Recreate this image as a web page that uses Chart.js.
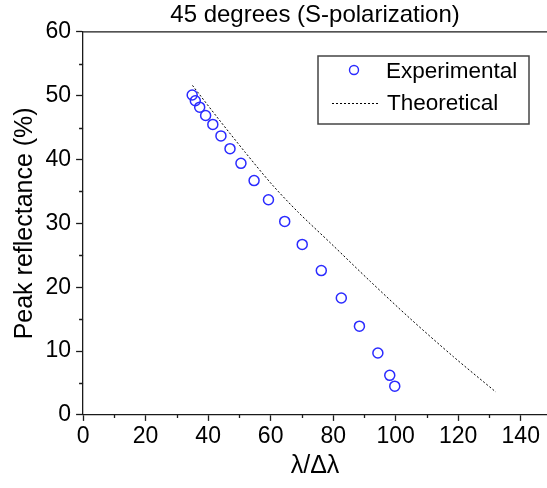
<!DOCTYPE html>
<html>
<head>
<meta charset="utf-8">
<script src="https://cdn.jsdelivr.net/npm/chart.js@4/dist/chart.umd.min.js"></script>
<style>
  html, body { margin: 0; padding: 0; background: #fff; }
  #wrap { width: 547px; height: 488px; position: relative; }
</style>
</head>
<body>
<div id="wrap"><canvas id="c" width="547" height="488"></canvas></div>
<script>
// ---- data ----
const expX = [34.9, 35.9, 37.3, 39.2, 41.5, 44.1, 47.0, 50.5, 54.7, 59.3, 64.5, 70.1, 76.2, 82.6, 88.4, 94.3, 98.1, 99.7];
const expY = [50.1, 49.2, 48.2, 46.9, 45.5, 43.7, 41.7, 39.4, 36.7, 33.7, 30.3, 26.7, 22.6, 18.3, 13.9, 9.7, 6.2, 4.5];
const theoX = [35.0, 43.4, 51.9, 60.4, 68.9, 79.4, 91.9, 104.6, 118.5, 132.0];
const theoY = [51.6, 46.3, 41.1, 36.1, 31.7, 26.8, 20.9, 15.1, 9.1, 3.6];
const xMajorTicks = [0, 20, 40, 60, 80, 100, 120, 140];
const xMinorTicks = [10, 30, 50, 70, 90, 110, 130];
const yMajorTicks = [0, 10, 20, 30, 40, 50, 60];
const yMinorTicks = [5, 15, 25, 35, 45, 55];
const titleText = '45 degrees (S-polarization)';
const xTitle = 'λ/Δλ';
const yTitle = 'Peak reflectance (%)';
const seriesNames = ['Experimental', 'Theoretical'];

const FONT = 'Arial, "Liberation Sans", sans-serif';
const AXIS = '#1a1a1a';
const BLUE = '#2b2bff';

const extras = {
  id: 'extras',
  afterDraw(chart) {
    const ctx = chart.ctx;
    const a = chart.chartArea;
    const xs = chart.scales.x, ys = chart.scales.y;
    ctx.save();
    ctx.strokeStyle = AXIS;
    ctx.lineWidth = 1.3;
    // top border
    ctx.beginPath();
    ctx.moveTo(a.left, a.top);
    ctx.lineTo(a.right, a.top);
    ctx.stroke();
    // minor ticks
    ctx.beginPath();
    xMinorTicks.forEach(v => {
      const px = Math.round(xs.getPixelForValue(v)) + 0.5;
      ctx.moveTo(px, a.bottom);
      ctx.lineTo(px, a.bottom + 3);
    });
    yMinorTicks.forEach(v => {
      const py = Math.round(ys.getPixelForValue(v)) + 0.5;
      ctx.moveTo(a.left, py);
      ctx.lineTo(a.left - 4, py);
    });
    ctx.stroke();
    // legend box
    const lx = 318, ly = 56, lw = 211, lh = 68;
    ctx.fillStyle = '#fff';
    ctx.fillRect(lx, ly, lw, lh);
    ctx.strokeStyle = '#444';
    ctx.lineWidth = 1.5;
    ctx.strokeRect(lx, ly, lw, lh);
    // experimental marker
    ctx.strokeStyle = BLUE;
    ctx.lineWidth = 1.4;
    ctx.beginPath();
    ctx.arc(354, 70, 4.5, 0, Math.PI * 2);
    ctx.stroke();
    // theoretical line
    ctx.strokeStyle = '#000';
    ctx.lineWidth = 1;
    ctx.setLineDash([2, 2]);
    ctx.beginPath();
    ctx.moveTo(332, 103.5);
    ctx.lineTo(378, 103.5);
    ctx.stroke();
    ctx.setLineDash([]);
    ctx.fillStyle = '#000';
    ctx.font = '22.5px ' + FONT;
    ctx.textBaseline = 'middle';
    ctx.textAlign = 'left';
    ctx.fillText(seriesNames[0], 386, 72);
    ctx.fillText(seriesNames[1], 387, 104);
    ctx.restore();
  }
};

new Chart(document.getElementById('c'), {
  type: 'scatter',
  data: {
    datasets: [
      {
        label: seriesNames[0],
        data: expX.map((x, i) => ({ x, y: expY[i] })),
        pointStyle: 'circle',
        pointRadius: 5,
        pointBorderWidth: 1.5,
        borderColor: BLUE,
        backgroundColor: 'rgba(0,0,0,0)',
        showLine: false
      },
      {
        label: seriesNames[1],
        data: theoX.map((x, i) => ({ x, y: theoY[i] })),
        showLine: true,
        pointRadius: 0,
        borderColor: '#000',
        borderWidth: 1,
        borderDash: [2, 2],
        tension: 0.3,
        fill: false
      }
    ]
  },
  options: {
    responsive: false,
    animation: false,
    layout: { autoPadding: false, padding: { left: 9.5, right: 0, top: 0, bottom: 9.5 } },
    plugins: {
      legend: { display: false },
      tooltip: { enabled: false },
      title: {
        display: true,
        text: titleText,
        fullSize: false,
        color: '#000',
        font: { family: FONT, size: 24, weight: 'normal' },
        padding: { top: 1, bottom: 2 }
      }
    },
    scales: {
      x: {
        type: 'linear',
        min: 0,
        max: 148.4,
        afterBuildTicks: axis => { axis.ticks = xMajorTicks.map(v => ({ value: v })); },
        border: { display: true, color: AXIS, width: 1.3 },
        grid: { drawOnChartArea: false, drawTicks: true, tickLength: 6, color: AXIS, tickWidth: 1.3 },
        ticks: { color: '#000', font: { family: FONT, size: 23, lineHeight: 1 }, padding: 4.3, maxRotation: 0, autoSkip: false },
        title: { display: true, text: xTitle, color: '#000', font: { family: FONT, size: 25, lineHeight: 1 }, padding: { top: 1, bottom: 0 } }
      },
      y: {
        type: 'linear',
        min: 0,
        max: 60,
        afterBuildTicks: axis => { axis.ticks = yMajorTicks.map(v => ({ value: v })); },
        border: { display: true, color: AXIS, width: 1.3 },
        grid: { drawOnChartArea: false, drawTicks: true, tickLength: 7, color: AXIS, tickWidth: 1.3 },
        ticks: { color: '#000', font: { family: FONT, size: 23 }, padding: 5, autoSkip: false },
        title: { display: true, text: yTitle, color: '#000', font: { family: FONT, size: 25 }, padding: { top: 1, bottom: 0 } }
      }
    }
  },
  plugins: [extras]
});
</script>
</body>
</html>
